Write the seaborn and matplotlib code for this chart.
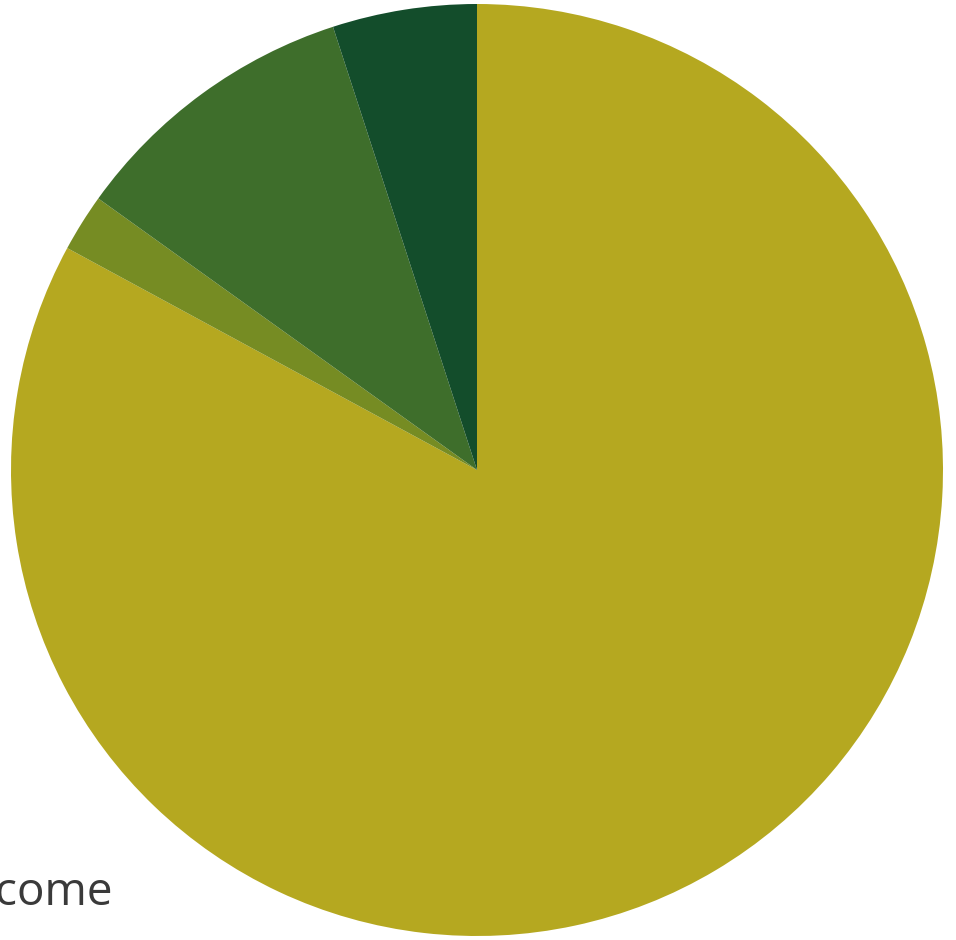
import matplotlib
matplotlib.use('Agg')
import matplotlib.pyplot as plt
import seaborn as sns

# slice shares, clockwise from 12 o'clock
labels = ['Income', 'Other A', 'Other B', 'Other C']
values = [82.9, 2.0, 10.1, 5.0]
colors = ['#B5A820', '#768C23', '#3E6E2B', '#134D2B']

sns.set_theme(style='white')
plt.rcParams['font.family'] = ['Open Sans', 'DejaVu Sans']

fig = plt.figure(figsize=(9.56, 9.40), dpi=100)
ax = fig.add_axes([0, 0, 1, 1])

ax.pie(values, colors=sns.color_palette(colors), startangle=90, counterclock=False,
       center=(477, 470), radius=466, frame=True,
       wedgeprops=dict(linewidth=0))
ax.set_xlim(0, 956)
ax.set_ylim(0, 940)
ax.set_aspect('equal')
ax.axis('off')

# outside label, cut off at the left edge as in the reference
ax.text(113, 940 - 893, labels[0], ha='right', va='center', fontsize=33,
        color='#3a3a3a')

fig.savefig('out.png', dpi=100)
